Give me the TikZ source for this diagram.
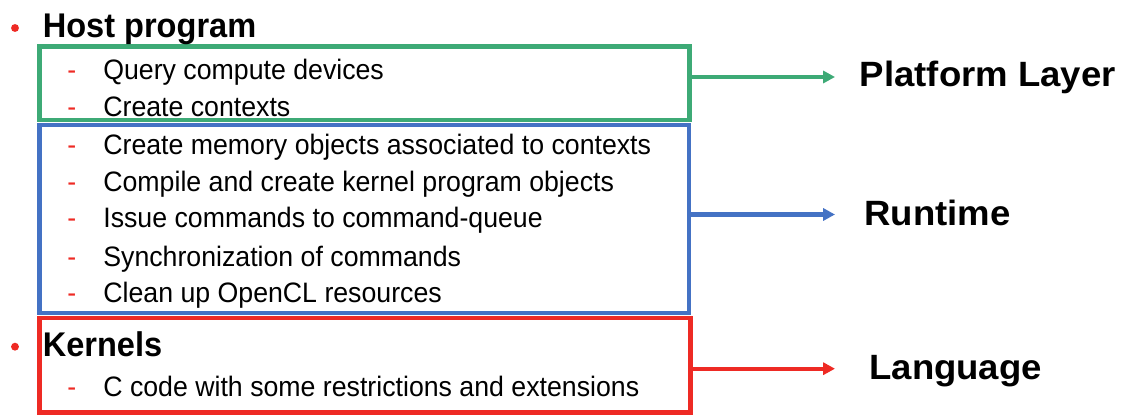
\documentclass[tikz,border=0pt]{standalone}
\usepackage{fontspec}
\setmainfont{Liberation Sans}
\newfontfamily\bodyfont{Liberation Sans}[FakeStretch=0.95]
\newfontfamily\lblfont{Liberation Sans}[FakeStretch=1.04]
\usetikzlibrary{arrows.meta}
\definecolor{platgreen}{RGB}{61,170,118}
\definecolor{rtblue}{RGB}{68,114,196}
\definecolor{langred}{RGB}{238,42,36}

\begin{document}
\begin{tikzpicture}[
  x=0.02cm, y=-0.02cm,
  box/.style={draw=#1,line width=2.55pt,outer sep=0pt,inner sep=0pt},
  conn/.style={-{Triangle[length=6.7pt,width=6.8pt]},line width=2.3pt,draw=#1},
  dot/.style={circle,fill=langred,inner sep=0pt,minimum size=4.5pt},
  head/.style={anchor=base west,inner sep=0pt,font=\bodyfont\fontsize{19.5}{23}\selectfont\bfseries},
  item/.style={anchor=base west,inner sep=0pt,font=\bodyfont\fontsize{16}{19}\selectfont},
  dashmark/.style={anchor=base west,inner sep=0pt,text=langred,font=\bodyfont\fontsize{16}{19}\selectfont},
  lbl/.style={anchor=base west,inner sep=0pt,font=\lblfont\fontsize{20}{24}\selectfont\bfseries}
]
\useasboundingbox (0,0) rectangle (1125,415);

% ---------- boxes round the groups of items
\node[box=platgreen,minimum width=13cm,minimum height=1.47cm] (plat) at (364.5,83.25) {};
\node[box=rtblue,minimum width=12.99cm,minimum height=3.76cm] (rt) at (364.25,219) {};
\node[box=langred,minimum width=13.02cm,minimum height=1.89cm] (lang) at (365,365.25) {};

% ---------- top level bullets
\node[dot] (b1) at (15,28) {};
\node[head] (host) at (42.5,37.7) {Host program};
\node[dot] (b2) at (15,346.7) {};
\node[head] (kern) at (42.5,356.7) {Kernels};

% ---------- sub items
\foreach \y/\t [count=\i] in {80/Query compute devices, 116.7/Create contexts,
  155/Create memory objects associated to contexts, 191.7/Compile and create kernel program objects,
  228/Issue commands to command-queue, 266.7/Synchronization of commands,
  302.7/Clean up OpenCL resources, 396.7/C code with some restrictions and extensions}{
  \node[dashmark] (dash\i) at (67,\y) {-};
  \node[item] (item\i) at (103,\y) {\t};
}

% ---------- right: layer names
\node[lbl] (platlbl) at (859.5,86.5) {Platform Layer};
\node[lbl] (rtlbl) at (864,225) {Runtime};
\node[lbl] (langlbl) at (869,379) {Language};

\coordinate (tip1) at (835,77);
\coordinate (tip2) at (835,214.5);
\coordinate (tip3) at (835,368.7);
\draw[conn=platgreen] (plat.east |- tip1) -- (tip1);
\draw[conn=rtblue] (rt.east |- tip2) -- (tip2);
\draw[conn=langred] (lang.east |- tip3) -- (tip3);
\end{tikzpicture}
\end{document}
